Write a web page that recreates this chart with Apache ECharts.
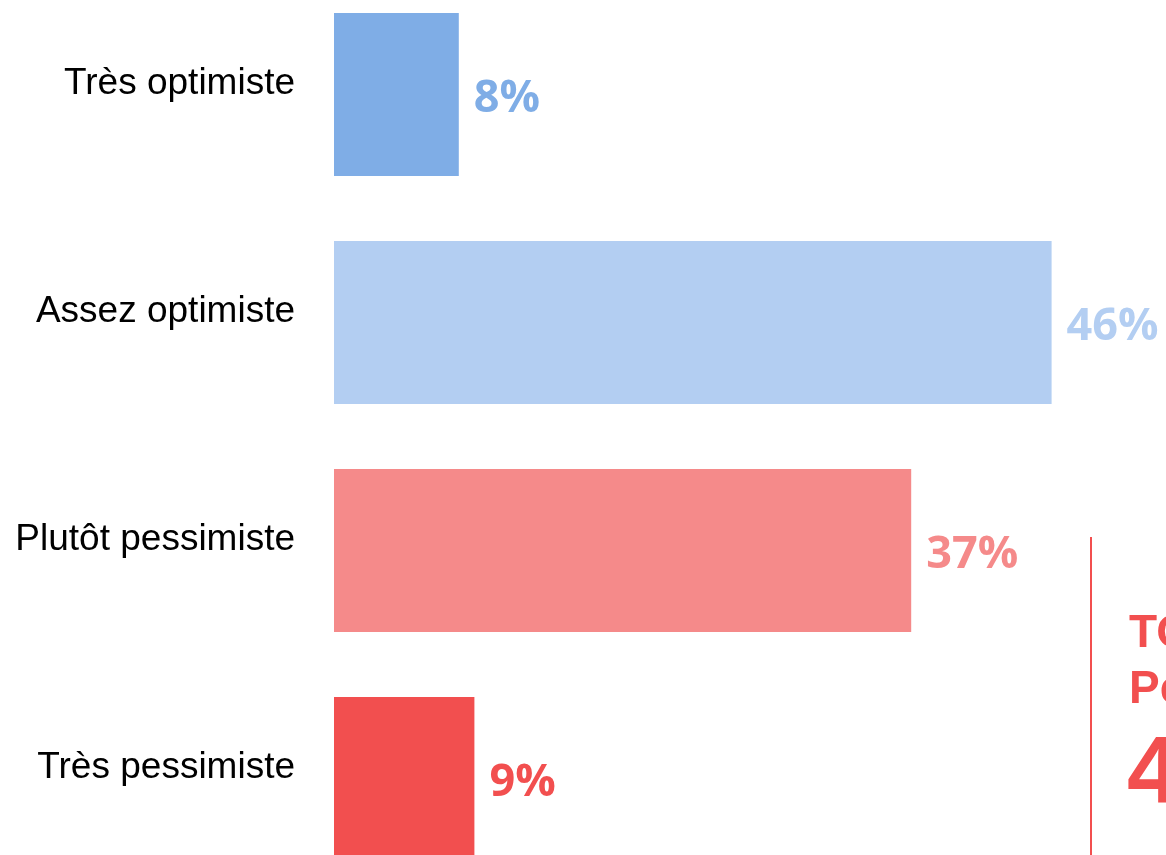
<!DOCTYPE html>
<html>
<head>
<meta charset="utf-8">
<script src="https://cdn.jsdelivr.net/npm/echarts@6/dist/echarts.min.js"></script>
<style>html,body{margin:0;padding:0;background:#fff;}#c{width:1166px;height:855px;}</style>
</head>
<body>
<div id="c"></div>
<script>
const categories = ['Très optimiste', 'Assez optimiste', 'Plutôt pessimiste', 'Très pessimiste'];
const values = [8, 46, 37, 9];
const barColors = ['#7FADE6', '#B3CEF2', '#F58A8A', '#F24F4F'];
const totalLines = ['TOTAL', 'Pessimistes', '46%'];

const chart = echarts.init(document.getElementById('c'));
chart.setOption({
  animation: false,
  grid: { left: 334, right: 52, top: -19.5, height: 912, containLabel: false, outerBoundsMode: 'none' },
  xAxis: { type: 'value', min: 0, max: 50, show: false },
  yAxis: {
    type: 'category', data: categories, inverse: true,
    axisLine: { show: false }, axisTick: { show: false }, splitLine: { show: false },
    axisLabel: {
      margin: 39, color: '#000', fontFamily: 'Liberation Sans', fontSize: 37,
      formatter: v => '{a|' + v + '}',
      rich: { a: { fontFamily: 'Liberation Sans', fontSize: 37, color: '#000', padding: [0, 0, 21, 0] } }
    }
  },
  series: [{
    type: 'bar', barWidth: 163,
    data: values.map((v, i) => ({ value: v, itemStyle: { color: barColors[i] },
      label: { color: barColors[i] } })),
    label: {
      show: true, position: 'right', distance: 15,
      formatter: '{c}%', fontFamily: 'Open Sans', fontWeight: 'bold', fontSize: 45,
      offset: [0, 5]
    }
  }],
  graphic: [
    { type: 'line', shape: { x1: 1091, y1: 537, x2: 1091, y2: 855 }, style: { stroke: '#F24F4F', lineWidth: 2 } },
    { type: 'text', left: 1129, top: 611, style: { text: totalLines[0], fill: '#F24F4F', font: 'bold 46px "Liberation Sans"' } },
    { type: 'text', left: 1129, top: 667, style: { text: totalLines[1], fill: '#F24F4F', font: 'bold 46px "Liberation Sans"' } },
    { type: 'text', left: 1127, top: 728, style: { text: totalLines[2], fill: '#F24F4F', font: 'bold 95px "Liberation Sans"' } }
  ]
});
</script>
</body>
</html>
